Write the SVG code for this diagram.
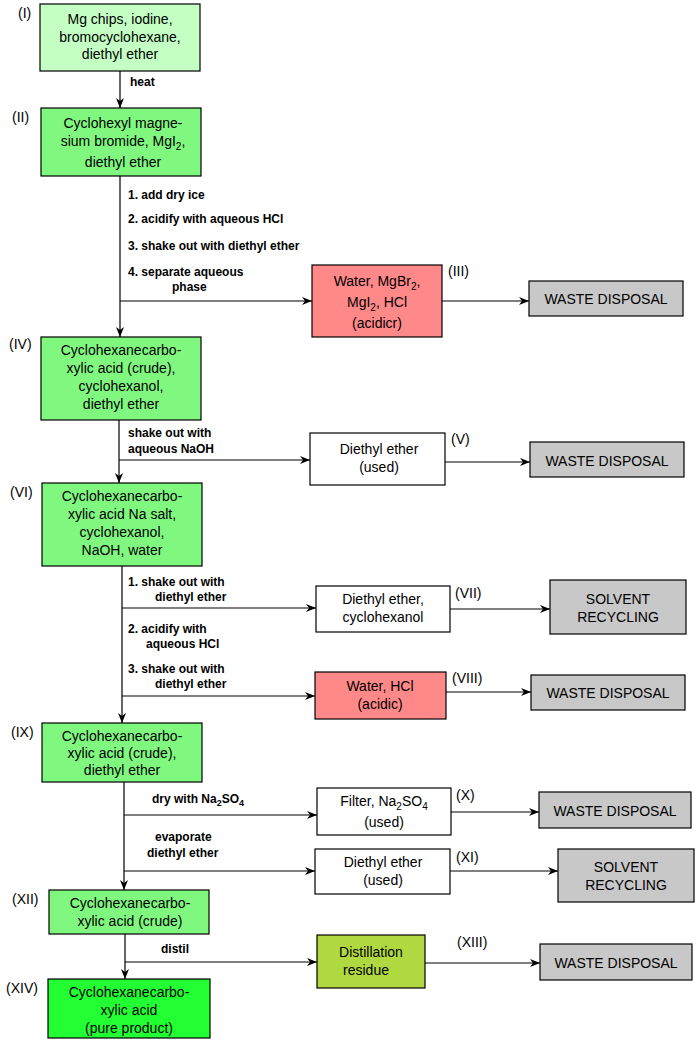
<svg xmlns="http://www.w3.org/2000/svg" width="700" height="1050" viewBox="0 0 700 1050">
<style>
rect{stroke:#000;stroke-width:1.2}
.t{font-family:"Liberation Sans",Arial,sans-serif;font-size:14px;text-anchor:middle;fill:#000}
.n{font-family:"Liberation Sans",Arial,sans-serif;font-size:14px;fill:#000}
.l{font-family:"Liberation Sans",Arial,sans-serif;font-size:12px;font-weight:bold;fill:#000}
.c path{stroke:#000;stroke-width:1.2;fill:none;marker-end:url(#a)}
.lg{fill:#c4ffc4}.g{fill:#80f880}.r{fill:#ff8888}.w{fill:#fff}.gr{fill:#c8c8c8}.o{fill:#b0d840}.bg{fill:#22ff33}
</style>
<defs><marker id="a" viewBox="0 0 10 10" refX="10" refY="5" markerWidth="10" markerHeight="10" markerUnits="userSpaceOnUse" orient="auto"><path d="M0,1 L10,5 L0,9 L3,5 Z" fill="#000"/></marker></defs>
<rect width="700" height="1050" fill="#fff" style="stroke:none"/>
<g class="c">
<path d="M120,71 V108"/>
<path d="M120,176 V337"/>
<path d="M120,301 H312"/>
<path d="M442,301 H529"/>
<path d="M119,420 V483"/>
<path d="M119,460 H310"/>
<path d="M445,462 H530"/>
<path d="M122,566 V723"/>
<path d="M122,608 H316"/>
<path d="M450,609 H550"/>
<path d="M122,696 H315"/>
<path d="M446,692 H531"/>
<path d="M124,782 V890"/>
<path d="M124,815 H317"/>
<path d="M451,812 H539"/>
<path d="M124,871 H315"/>
<path d="M450,871 H558"/>
<path d="M125,934 V979"/>
<path d="M125,962 H317"/>
<path d="M425,963 H540"/>
</g>
<g class="l">
<text x="130" y="86">heat</text>
<text x="128" y="199">1. add dry ice</text>
<text x="128" y="223">2. acidify with aqueous HCl</text>
<text x="128" y="250">3. shake out with diethyl ether</text>
<text x="128" y="276">4. separate aqueous</text>
<text x="172" y="291">phase</text>
<text x="128" y="437">shake out with</text>
<text x="128" y="453">aqueous NaOH</text>
<text x="128" y="586">1. shake out with</text>
<text x="155" y="601">diethyl ether</text>
<text x="128" y="633">2. acidify with</text>
<text x="146" y="648">aqueous HCl</text>
<text x="128" y="673">3. shake out with</text>
<text x="155" y="688">diethyl ether</text>
<text x="152" y="803">dry with Na<tspan font-size="9" dy="3">2</tspan><tspan dy="-3">SO</tspan><tspan font-size="9" dy="3">4</tspan></text>
<text x="155" y="841">evaporate</text>
<text x="147" y="857">diethyl ether</text>
<text x="161" y="953">distil</text>
</g>
<g id="n1"><rect class="lg" x="40" y="4" width="160" height="67"/><text class="t" x="120" y="24">Mg chips, iodine,</text><text class="t" x="120" y="42">bromocyclohexane,</text><text class="t" x="120" y="59">diethyl ether</text><text class="n" x="18" y="18">(I)</text></g>
<g id="n2"><rect class="g" x="41" y="108" width="160" height="68"/><text class="t" x="123" y="128">Cyclohexyl magne-</text><text class="t" x="123" y="146">sium bromide, MgI<tspan font-size="10" dy="4">2</tspan><tspan dy="-4">,</tspan></text><text class="t" x="123" y="167">diethyl ether</text><text class="n" x="12" y="122">(II)</text></g>
<g id="n3"><rect class="r" x="312" y="265" width="130" height="72"/><text class="t" x="377" y="286">Water, MgBr<tspan font-size="10" dy="4">2</tspan><tspan dy="-4">,</tspan></text><text class="t" x="377" y="307">MgI<tspan font-size="10" dy="4">2</tspan><tspan dy="-4">, HCl</tspan></text><text class="t" x="377" y="328">(acidicr)</text><text class="n" x="448" y="276">(III)</text></g>
<g id="w1"><rect class="gr" x="529" y="281" width="154" height="35"/><text class="t" x="606" y="304">WASTE DISPOSAL</text></g>
<g id="n4"><rect class="g" x="41" y="337" width="160" height="83"/><text class="t" x="121" y="355">Cyclohexanecarbo-</text><text class="t" x="121" y="373">xylic acid (crude),</text><text class="t" x="121" y="391">cyclohexanol,</text><text class="t" x="121" y="409">diethyl ether</text><text class="n" x="9" y="349">(IV)</text></g>
<g id="n5"><rect class="w" x="310" y="433" width="135" height="52"/><text class="t" x="379" y="454">Diethyl ether</text><text class="t" x="379" y="472">(used)</text><text class="n" x="451" y="444">(V)</text></g>
<g id="w2"><rect class="gr" x="530" y="442" width="154" height="35"/><text class="t" x="607" y="466">WASTE DISPOSAL</text></g>
<g id="n6"><rect class="g" x="42" y="483" width="160" height="83"/><text class="t" x="122" y="501">Cyclohexanecarbo-</text><text class="t" x="122" y="519">xylic acid Na salt,</text><text class="t" x="122" y="537">cyclohexanol,</text><text class="t" x="122" y="555">NaOH, water</text><text class="n" x="10" y="497">(VI)</text></g>
<g id="n7"><rect class="w" x="316" y="586" width="134" height="46"/><text class="t" x="383" y="604">Diethyl ether,</text><text class="t" x="383" y="622">cyclohexanol</text><text class="n" x="455" y="598">(VII)</text></g>
<g id="s1"><rect class="gr" x="550" y="580" width="136" height="54"/><text class="t" x="618" y="604">SOLVENT</text><text class="t" x="618" y="622">RECYCLING</text></g>
<g id="n8"><rect class="r" x="315" y="672" width="131" height="47"/><text class="t" x="380" y="691">Water, HCl</text><text class="t" x="380" y="709">(acidic)</text><text class="n" x="452" y="683">(VIII)</text></g>
<g id="w3"><rect class="gr" x="531" y="675" width="154" height="35"/><text class="t" x="608" y="698">WASTE DISPOSAL</text></g>
<g id="n9"><rect class="g" x="42" y="723" width="160" height="59"/><text class="t" x="122" y="741">Cyclohexanecarbo-</text><text class="t" x="122" y="758">xylic acid (crude),</text><text class="t" x="122" y="775">diethyl ether</text><text class="n" x="11" y="737">(IX)</text></g>
<g id="n10"><rect class="w" x="317" y="788" width="134" height="47"/><text class="t" x="384" y="806">Filter, Na<tspan font-size="10" dy="4">2</tspan><tspan dy="-4">SO</tspan><tspan font-size="10" dy="4">4</tspan></text><text class="t" x="384" y="827">(used)</text><text class="n" x="456" y="800">(X)</text></g>
<g id="w4"><rect class="gr" x="539" y="792" width="152" height="36"/><text class="t" x="615" y="816">WASTE DISPOSAL</text></g>
<g id="n11"><rect class="w" x="315" y="849" width="135" height="45"/><text class="t" x="383" y="867">Diethyl ether</text><text class="t" x="383" y="885">(used)</text><text class="n" x="456" y="862">(XI)</text></g>
<g id="s2"><rect class="gr" x="558" y="849" width="136" height="53"/><text class="t" x="626" y="872">SOLVENT</text><text class="t" x="626" y="890">RECYCLING</text></g>
<g id="n12"><rect class="g" x="49" y="890" width="160" height="44"/><text class="t" x="130" y="908">Cyclohexanecarbo-</text><text class="t" x="130" y="926">xylic acid (crude)</text><text class="n" x="12" y="904">(XII)</text></g>
<g id="n13"><rect class="o" x="317" y="935" width="108" height="53"/><text class="t" x="371" y="957">Distillation</text><text class="t" x="366" y="975">residue</text><text class="n" x="457" y="947">(XIII)</text></g>
<g id="w5"><rect class="gr" x="540" y="944" width="152" height="36"/><text class="t" x="616" y="968">WASTE DISPOSAL</text></g>
<g id="n14"><rect class="bg" x="48" y="979" width="162" height="59"/><text class="t" x="129" y="997">Cyclohexanecarbo-</text><text class="t" x="129" y="1015">xylic acid</text><text class="t" x="129" y="1033">(pure product)</text><text class="n" x="6" y="993">(XIV)</text></g>
</svg>
